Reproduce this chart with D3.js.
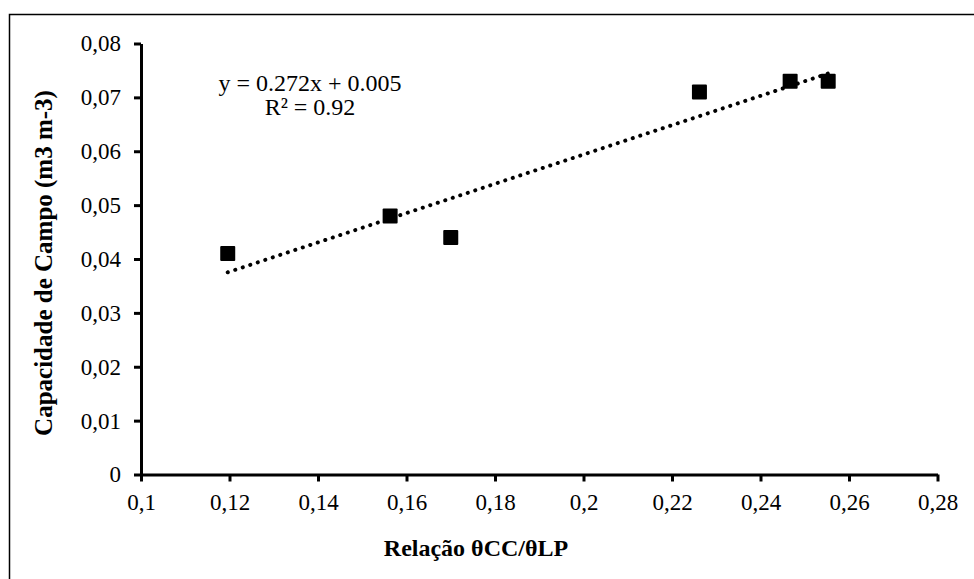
<!DOCTYPE html>
<html>
<head>
<meta charset="utf-8">
<script src="https://cdn.jsdelivr.net/npm/d3@7"></script>
<style>
  body { margin: 0; background: #fff; }
</style>
</head>
<body>
<div id="vis"></div>
<script>
// data
var ratio = [0.1196, 0.1563, 0.1700, 0.2262, 0.2467, 0.2553];
var fieldCap = [0.041, 0.048, 0.044, 0.071, 0.073, 0.073];
var xTicks = [0.1, 0.12, 0.14, 0.16, 0.18, 0.2, 0.22, 0.24, 0.26, 0.28];
var yTicks = [0, 0.01, 0.02, 0.03, 0.04, 0.05, 0.06, 0.07, 0.08];
var slope = 0.272;
var intercept = 0.005;
var eqLines = ["y = 0.272x + 0.005", "R\u00b2 = 0.92"];

var width = 974;
var height = 579;
var serif = "Liberation Serif";

var svg = d3.select("#vis")
    .append("svg")
    .attr("width", width)
    .attr("height", height)
    .attr("font-family", serif);

// outer frame (only left/top visible in the picture)
svg.append("rect")
    .attr("x", 9.5)
    .attr("y", 14.5)
    .attr("width", 1000)
    .attr("height", 600)
    .attr("fill", "none")
    .attr("stroke", "#000")
    .attr("stroke-width", 1.5);

var xscale = d3.scaleLinear()
    .domain([0.1, 0.28])
    .range([141, 937.5]);

var yscale = d3.scaleLinear()
    .domain([0, 0.08])
    .range([474.5, 43.5]);

var fmt = function (d) { return String(d).replace(".", ","); };

var xaxis = d3.axisBottom(xscale)
    .tickValues(xTicks)
    .tickSize(7)
    .tickSizeOuter(0)
    .tickPadding(12)
    .tickFormat(fmt);

var yaxis = d3.axisLeft(yscale)
    .tickValues(yTicks)
    .tickSize(7)
    .tickSizeOuter(0)
    .tickPadding(13)
    .tickFormat(fmt);

var gx = svg.append("g")
    .attr("transform", "translate(0," + yscale(0) + ")")
    .call(xaxis);

var gy = svg.append("g")
    .attr("transform", "translate(" + xscale(0.1) + ",0)")
    .call(yaxis);

[gx, gy].forEach(function (g) {
    g.attr("font-family", serif).attr("font-size", 23);
    g.select(".domain").attr("stroke", "#000").attr("stroke-width", 3);
    g.selectAll(".tick line").attr("stroke", "#000").attr("stroke-width", 3);
    g.selectAll(".tick text").attr("fill", "#000");
});

// trend line
var x0 = d3.min(ratio), x1 = d3.max(ratio);
svg.append("line")
    .attr("x1", xscale(x0))
    .attr("y1", yscale(slope * x0 + intercept))
    .attr("x2", xscale(x1))
    .attr("y2", yscale(slope * x1 + intercept))
    .attr("stroke", "#000")
    .attr("stroke-width", 4)
    .attr("stroke-linecap", "round")
    .attr("stroke-dasharray", "0.1 7.8");

// points
var sq = 15;
svg.selectAll(".pt")
    .data(ratio)
    .enter()
    .append("rect")
    .attr("class", "pt")
    .attr("x", function (d) { return xscale(d) - sq / 2; })
    .attr("y", function (d, i) { return yscale(fieldCap[i]) - sq / 2; })
    .attr("width", sq)
    .attr("height", sq)
    .attr("rx", 1)
    .attr("fill", "#000");

// equation
svg.selectAll(".eq")
    .data(eqLines)
    .enter()
    .append("text")
    .attr("class", "eq")
    .attr("x", 310)
    .attr("y", function (d, i) { return 91 + i * 24; })
    .attr("text-anchor", "middle")
    .attr("font-size", 24)
    .text(function (d) { return d; });

// axis titles
svg.append("text")
    .attr("x", 476)
    .attr("y", 556)
    .attr("text-anchor", "middle")
    .attr("font-size", 24)
    .attr("font-weight", "bold")
    .text("Relação θCC/θLP");

svg.append("text")
    .attr("transform", "translate(52,263) rotate(-90)")
    .attr("text-anchor", "middle")
    .attr("font-size", 25)
    .attr("font-weight", "bold")
    .text("Capacidade de Campo (m3 m-3)");
</script>
</body>
</html>
